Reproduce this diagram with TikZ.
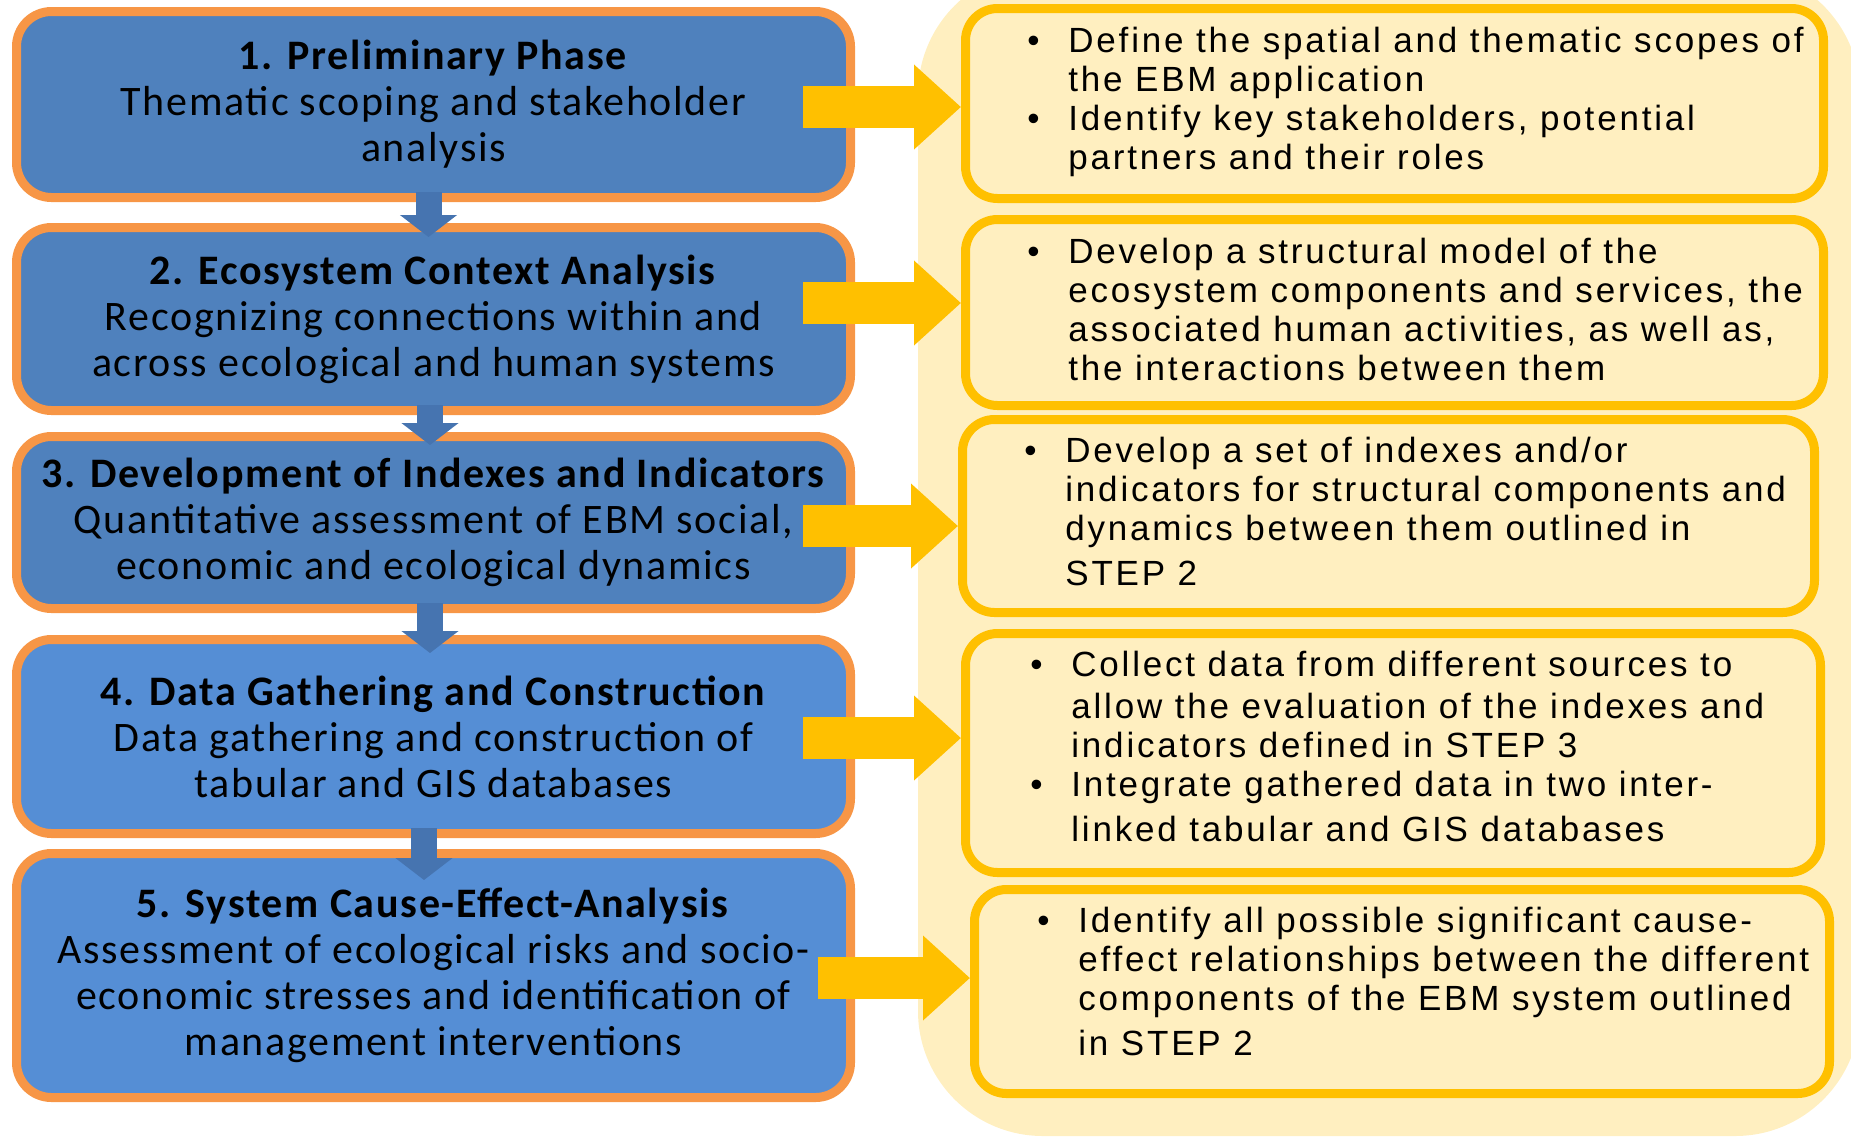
\documentclass[tikz,border=0pt]{standalone}
\usepackage{fontspec}
\setmainfont[LetterSpace=4]{Carlito}
\newfontfamily\listfont[LetterSpace=8]{Liberation Sans}
\usetikzlibrary{arrows.meta, positioning}

\definecolor{stepblue}{HTML}{4F81BD}
\definecolor{steplight}{HTML}{558ED5}
\definecolor{steporange}{HTML}{F79646}
\definecolor{flowblue}{HTML}{4674B0}
\definecolor{gold}{HTML}{FFC000}
\definecolor{cream}{HTML}{FFEFC0}

\newcommand{\bul}{\makebox[20.5pt][l]{\textbullet}}

\begin{document}
\begin{tikzpicture}[x=0.5pt, y=-0.5pt,
    phase/.style={draw=steporange, line width=4.5pt, rounded corners=17.5pt,
        minimum width=417pt, inner sep=0pt, align=center,
        font=\fontsize{21}{23}\selectfont},
    infobox/.style={draw=gold, fill=cream, line width=4.5pt, rounded corners=16pt},
    infotext/.style={anchor=west, inner sep=0pt,
        font=\listfont\fontsize{17.5}{19.5}\selectfont},
    goldarrow/.style={draw=gold, line width=21pt,
        -{Triangle[length=23.5pt, width=41pt]}},
    downarrow/.style={draw=flowblue, line width=13pt,
        -{Triangle[length=11pt, width=28pt]}}]

    \useasboundingbox (0,0) rectangle (1851,1136);

    % Background panel
    \fill[cream, rounded corners=62.5pt] (918,-31) rectangle (1860,1136);

    % Phases
    \node[phase, fill=stepblue, minimum height=93pt] (s1) at (433.5,104.5)
        {\textbf{1. Preliminary Phase}\\ Thematic scoping and stakeholder\\ analysis};
    \node[phase, fill=stepblue, minimum height=91.5pt] (s2) at (433.5,319)
        {\textbf{2. Ecosystem Context Analysis}\\ Recognizing connections within and\\ across ecological and human systems};
    \node[phase, fill=stepblue, minimum height=86pt] (s3) at (433.5,522.5)
        {\textbf{3. Development of Indexes and Indicators}\\ Quantitative assessment of EBM social,\\ economic and ecological dynamics};
    \node[phase, fill=steplight, minimum height=97pt] (s4) at (433.5,736.5)
        {\textbf{4. Data Gathering and Construction}\\ Data gathering and construction of\\ tabular and GIS databases};
    \node[phase, fill=steplight, minimum height=122pt] (s5) at (433.5,975.5)
        {\textbf{5. System Cause-Effect-Analysis}\\ Assessment of ecological risks and socio-\\ economic stresses and identification of\\ management interventions};

    % Tasks
    \node[infobox, minimum width=429pt, minimum height=95pt] (infoA) at (1394.5,103.5) {};
    \node[infobox, minimum width=429pt, minimum height=93pt] (infoB) at (1394.5,312.5) {};
    \node[infobox, minimum width=426pt, minimum height=96.5pt] (infoC) at (1388.5,516) {};
    \node[infobox, minimum width=427.5pt, minimum height=119.5pt] (infoD) at (1393,753) {};
    \node[infobox, minimum width=427.5pt, minimum height=102pt] (infoE) at (1402,991.5) {};

    \node[infotext] (txtA) at ([xshift=33pt, yshift=0pt]infoA.west)
        {\begin{tabular}{@{}l@{}l@{}}
        \bul & Define the spatial and thematic scopes of\\
             & the EBM application\\
        \bul & Identify key stakeholders, potential\\
             & partners and their roles
        \end{tabular}};
    \node[infotext] (txtB) at ([xshift=33pt, yshift=-0.75pt]infoB.west)
        {\begin{tabular}{@{}l@{}l@{}}
        \bul & Develop a structural model of the\\
             & ecosystem components and services, the\\
             & associated human activities, as well as,\\
             & the interactions between them
        \end{tabular}};
    \node[infotext] (txtC) at ([xshift=33pt, yshift=-0.25pt]infoC.west)
        {\begin{tabular}{@{}l@{}l@{}}
        \bul & Develop a set of indexes and/or\\
             & indicators for structural components and\\
             & dynamics between them outlined in\\[3pt]
             & STEP 2
        \end{tabular}};
    \node[infotext] (txtD) at ([xshift=34.5pt, yshift=1pt]infoD.west)
        {\begin{tabular}{@{}l@{}l@{}}
        \bul & Collect data from different sources to\\[1.5pt]
             & allow the evaluation of the indexes and\\
             & indicators defined in STEP 3\\
        \bul & Integrate gathered data in two inter-\\[3pt]
             & linked tabular and GIS databases
        \end{tabular}};
    \node[infotext] (txtE) at ([xshift=33.5pt, yshift=2.5pt]infoE.west)
        {\begin{tabular}{@{}l@{}l@{}}
        \bul & Identify all possible significant cause-\\
             & effect relationships between the different\\
             & components of the EBM system outlined\\[3pt]
             & in STEP 2
        \end{tabular}};

    % Flow between phases
    \draw[downarrow] ([xshift=-2.5pt, yshift=5pt]s1.south) -- ([xshift=-2.5pt, yshift=-7pt]s2.north);
    \draw[downarrow] ([xshift=-1.75pt, yshift=5pt]s2.south) -- ([xshift=-1.75pt, yshift=-6.5pt]s3.north);
    \draw[downarrow] ([xshift=-1.75pt, yshift=5pt]s3.south) -- ([xshift=-1.75pt, yshift=-9pt]s4.north);
    \draw[downarrow] ([xshift=-4.75pt, yshift=5pt]s4.south) -- ([xshift=-4.75pt, yshift=-15.5pt]s5.north);

    % Phase to tasks
    \draw[goldarrow] ([shift={(-26pt,-1.25pt)}]s1.east) coordinate (a1) -- (a1 -| infoA.west);
    \draw[goldarrow] ([shift={(-26pt,8pt)}]s2.east) coordinate (a2) -- (a2 -| infoB.west);
    \draw[goldarrow] ([shift={(-26pt,-1.75pt)}]s3.east) coordinate (a3) -- (a3 -| infoC.west);
    \draw[goldarrow] ([shift={(-26pt,-0.75pt)}]s4.east) coordinate (a4) -- (a4 -| infoD.west);
    \draw[goldarrow] ([shift={(-18.5pt,-1.25pt)}]s5.east) coordinate (a5) -- (a5 -| infoE.west);

\end{tikzpicture}
\end{document}
